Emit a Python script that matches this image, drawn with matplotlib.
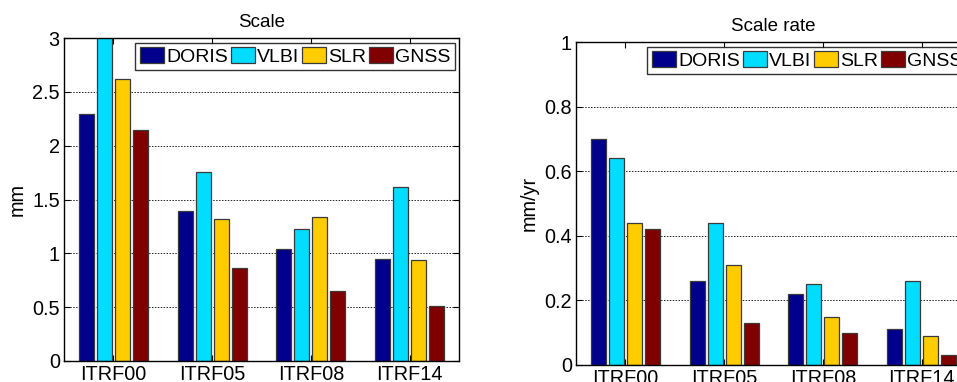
import matplotlib
matplotlib.use("Agg")
import matplotlib.pyplot as plt
import numpy as np

plt.rcParams['font.family'] = ['Liberation Sans', 'DejaVu Sans']

frames = ["ITRF00", "ITRF05", "ITRF08", "ITRF14"]
techniques = ["DORIS", "VLBI", "SLR", "GNSS"]
colors = ["#00008C", "#00DDFF", "#FFCC00", "#800000"]

scale_doris = [2.29, 1.39, 1.04, 0.95]
scale_vlbi = [3.10, 1.76, 1.23, 1.62]
scale_slr = [2.62, 1.32, 1.34, 0.94]
scale_gnss = [2.15, 0.86, 0.65, 0.51]

rate_doris = [0.70, 0.26, 0.22, 0.11]
rate_vlbi = [0.64, 0.44, 0.25, 0.26]
rate_slr = [0.44, 0.31, 0.15, 0.09]
rate_gnss = [0.42, 0.13, 0.10, 0.03]

scale_ticks = [0, 0.5, 1, 1.5, 2, 2.5, 3]
scale_ticklabels = ["0", "0.5", "1", "1.5", "2", "2.5", "3"]
rate_ticks = [0, 0.2, 0.4, 0.6, 0.8, 1.0]
rate_ticklabels = ["0", "0.2", "0.4", "0.6", "0.8", "1"]

W, H = 957, 382
fig = plt.figure(figsize=(W / 100, H / 100), dpi=100)

FS = 14.3
FL = 14.0
FT = 13.5


def panel(rect, series, title, ylabel, ticks, ticklabels, ylim):
    ax = fig.add_axes(rect)
    x = np.arange(1, len(frames) + 1)
    step = 0.182
    width = 0.152
    for i, (vals, name, c) in enumerate(zip(series, techniques, colors)):
        ax.bar(x + (i - 1.5) * step, vals, width=width, color=c,
               edgecolor="#3a3a3a", linewidth=0.9, label=name, zorder=2)
    ax.set_xlim(0.5, 4.5)
    ax.set_ylim(*ylim)
    ax.set_xticks(x)
    ax.set_xticklabels(frames, fontsize=FS)
    ax.set_yticks(ticks)
    ax.set_yticklabels(ticklabels, fontsize=FS)
    ax.tick_params(direction="in", top=True, right=True, length=4,
                   width=0.8, pad=3)
    ax.yaxis.grid(True, linestyle=(0, (1.5, 1.5)), color="#222222",
                  linewidth=0.7, zorder=0)
    ax.set_axisbelow(True)
    for s in ax.spines.values():
        s.set_linewidth(1.0)
        s.set_zorder(3)
    ax.set_title(title, fontsize=FT, pad=8)
    ax.set_ylabel(ylabel, fontsize=FS, labelpad=4)
    leg = ax.legend(loc="upper right", bbox_to_anchor=(0.99, 0.985), ncol=4,
                    fontsize=FL, frameon=True, fancybox=False,
                    edgecolor="black", handlelength=1.25, handleheight=0.9,
                    handletextpad=0.1, columnspacing=0.15, borderpad=0.22,
                    borderaxespad=0.0)
    leg.get_frame().set_linewidth(1.0)
    return ax


panel([64 / W, (H - 361) / H, 395 / W, 323 / H],
      [scale_doris, scale_vlbi, scale_slr, scale_gnss],
      "Scale", "mm", scale_ticks, scale_ticklabels, (0, 3))
panel([576 / W, (H - 365) / H, 395 / W, 323 / H],
      [rate_doris, rate_vlbi, rate_slr, rate_gnss],
      "Scale rate", "mm/yr", rate_ticks, rate_ticklabels, (0, 1))

fig.savefig("out.png", dpi=100)
